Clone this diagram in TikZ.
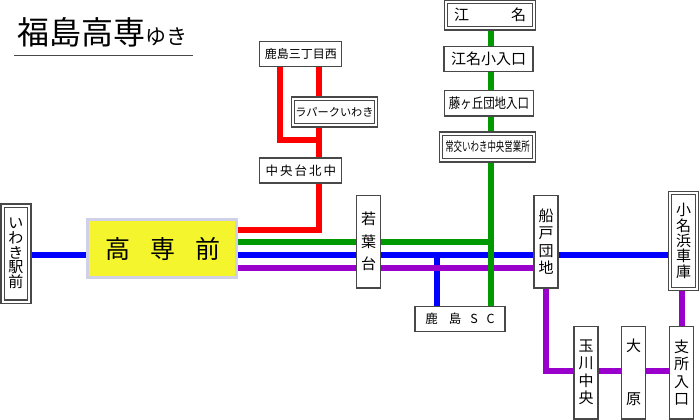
\documentclass[tikz,border=0pt]{standalone}
\usepackage{fontspec}
\usepackage{graphicx}
\usetikzlibrary{backgrounds}
\setmainfont{Noto Sans CJK JP}
\newcommand{\pxfont}[2]{\fontsize{\dimexpr#1pt*3/4\relax}{\dimexpr#2pt*3/4\relax}\selectfont}
\newcommand{\pxsp}[1]{\hspace*{\dimexpr#1pt*3/4\relax}}
\definecolor{lred}{HTML}{FF0000}
\definecolor{lgreen}{HTML}{009900}
\definecolor{lblue}{HTML}{0000FF}
\definecolor{lpurple}{HTML}{9900CC}
\definecolor{edge}{HTML}{484848}
\definecolor{kkedge}{HTML}{D0D0E8}
\definecolor{kkfill}{HTML}{F5F52E}
\tikzset{
  x=0.75pt,y=-0.75pt,
  stn/.style={draw=edge,fill=white,line width=1pt,inner sep=0pt,align=center,text=black},
  stnd/.style={stn,double=white,double distance=1.5pt,line width=0.9pt},
  route/.style={line width=4.5pt},
}
\begin{document}
\begin{tikzpicture}
\useasboundingbox (0,0) rectangle (700,419);
% title
\node[inner sep=0pt,anchor=base west] (title) at (17,44) {\pxfont{32}{32}福島高専\pxfont{21}{21}ゆき};
\coordinate (tl) at (14,55.5);
\coordinate (tr) at (193,55.5);
\draw[edge,line width=1pt] (tl) -- (tr);
% stations
\node[stn,minimum width=61.5pt,minimum height=18.75pt,font=\pxfont{12}{12}] (kn) at (300.75,54.25) {鹿島三丁目西};
\node[stnd,minimum width=62pt,minimum height=20pt,font=\pxfont{11.2}{12}] (lp) at (334.5,112) {ラパークいわき};
\node[stn,minimum width=61.5pt,minimum height=18.75pt,font=\pxfont{12.5}{12}] (cd) at (300.75,170.5) {中\pxsp{2}央\pxsp{2}台\pxsp{2}北\pxsp{2}中};
\node[stnd,minimum width=66pt,minimum height=20pt,font=\pxfont{15}{15}] (en) at (490,15) {江\pxsp{42}名};
\node[stn,minimum width=66.75pt,minimum height=19pt,font=\pxfont{15}{15}] (es) at (488.5,59) {江名小入口};
\node[stn,minimum width=66.75pt,minimum height=19pt,font=\pxfont{14}{14}] (fg) at (489,103.25) {\scalebox{0.82}[1]{藤ヶ丘団地入口}};
\node[stnd,minimum width=69.5pt,minimum height=20pt,font=\pxfont{13}{14}] (jk) at (487.5,147) {\scalebox{0.65}[1]{常交いわき中央営業所}};
\node[stnd,minimum width=20pt,minimum height=72pt,font=\pxfont{15}{14.7}] (iw) at (16,253.5) {い\\わ\\き\\駅\\前};
\node[draw=kkedge,fill=kkfill,line width=2.4pt,inner sep=0pt,minimum width=111.5pt,minimum height=43.5pt,font=\pxfont{25}{25}] (kk) at (162,248.5) {\pxsp{1}高\pxsp{20}専\pxsp{20}前};
\node[stn,minimum width=18pt,minimum height=69.5pt,font=\pxfont{15}{22.5}] (wk) at (368.5,241.5) {若\\葉\\台};
\node[stn,minimum width=18pt,minimum height=69.5pt,font=\pxfont{15}{17.5}] (fn) at (546,241.5) {船\\戸\\団\\地};
\node[stnd,minimum width=20pt,minimum height=72pt,font=\pxfont{15}{15.3}] (on) at (683.5,241) {小\\名\\浜\\車\\庫};
\node[stn,minimum width=67.5pt,minimum height=19pt,font=\pxfont{12.5}{12}] (sc) at (460,319) {鹿\pxsp{11}島\pxsp{9}S\pxsp{9}C};
\node[stn,minimum width=18pt,minimum height=69.5pt,font=\pxfont{15}{17.5}] (tm) at (586,372.5) {玉\\川\\中\\央};
\node[stn,minimum width=18pt,minimum height=69.5pt,font=\pxfont{15}{52.5}] (oh) at (633.5,372.5) {大\\原};
\node[stn,minimum width=18pt,minimum height=69.5pt,font=\pxfont{15}{17.5}] (sh) at (681.5,372.5) {支\\所\\入\\口};
% route coordinates
\coordinate (g1) at (491,242);
\coordinate (g2) at (494,242);
\coordinate (r1) at (318.5,230);
\coordinate (r2) at (279.5,139.5);
\coordinate (r3) at (318.5,139.5);
\coordinate (b1) at (0,255);
\coordinate (b2) at (436.5,252.5);
\coordinate (p1) at (0,268);
\coordinate (p2) at (546,371);
\coordinate (p3) at (682,0);
\begin{pgfonlayer}{background}
  \draw[route,lred] (kk.east |- r1) -- (r1) -- (r1 |- kn.south);
  \draw[route,lred,line join=miter] (r2 |- kn.south) -- (r2) -- (r3);
  \draw[route,lblue] (iw.east |- b1) -- (on.west |- b1);
  \draw[route,lblue] (b2) -- (b2 |- sc.north);
  \draw[route,lpurple] (kk.east |- p1) -- (fn.west |- p1);
  \draw[route,lgreen] (kk.east |- g1) -- (g2);
  \draw[route,lgreen] (g1 |- en.south) -- (g1 |- sc.north);
  \draw[route,lpurple] (p2 |- fn.south) -- (p2) -- (sh.west |- p2);
  \draw[route,lpurple] (p3 |- on.south) -- (p3 |- sh.north);
\end{pgfonlayer}
\end{tikzpicture}
\end{document}
